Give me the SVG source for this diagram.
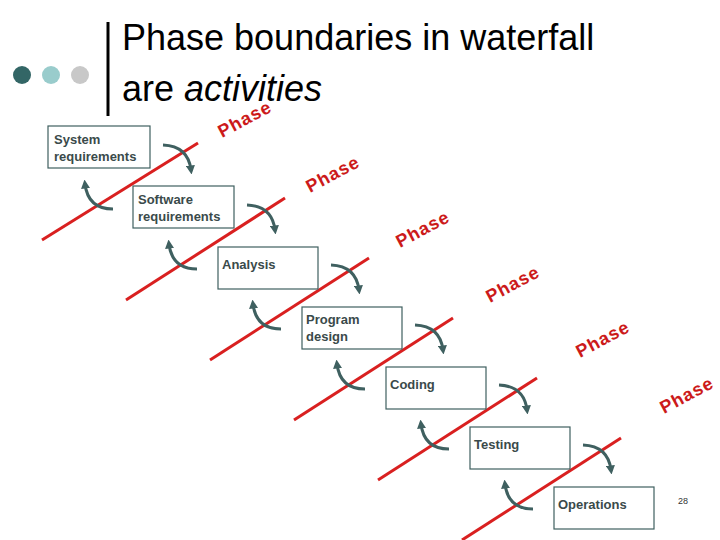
<svg xmlns="http://www.w3.org/2000/svg" width="720" height="540" viewBox="0 0 720 540">
<defs>
<style>
.box{fill:#fff;stroke:#3f5f5f;stroke-width:1.2}
.lbl{font-family:"Liberation Sans",Arial,sans-serif;font-size:13px;font-weight:bold;fill:#3a4a4a}
.red{stroke:#d92020;stroke-width:3}
.arr{fill:none;stroke:#3f6060;stroke-width:3}
.ph{font-family:"Liberation Sans",Arial,sans-serif;font-size:18px;font-weight:bold;fill:#cc1a1a;letter-spacing:1px}
</style>
<marker id="ah" viewBox="0 0 10 10" refX="5" refY="5" markerWidth="3" markerHeight="3" orient="auto"><path d="M0,0L10,5L0,10z" fill="#3f6060"/></marker>
<g id="arrows">
<path id="dn" class="arr" d="M163,145 Q188,146 191,170" marker-end="url(#ah)"/>
<path id="up" class="arr" d="M113,209 Q88,209 85,184" marker-end="url(#ah)"/>
</g>
</defs>
<rect width="720" height="540" fill="#fff"/>
<g id="deco">
<circle cx="22" cy="75" r="9" fill="#336666"/>
<circle cx="51" cy="75" r="9" fill="#99cccc"/>
<circle cx="80" cy="75" r="9" fill="#c8c8c8"/>
<line x1="108" y1="22" x2="108" y2="116" stroke="#000" stroke-width="3"/>
</g>
<text x="122" y="50" font-family="Liberation Sans,Arial,sans-serif" font-size="36" fill="#000">Phase boundaries in waterfall</text>
<text x="122" y="101" font-family="Liberation Sans,Arial,sans-serif" font-size="36" fill="#000">are <tspan font-style="italic">activities</tspan></text>
<g id="connectors">
<line class="red" x1="42" y1="240" x2="198" y2="143"/>
<line class="red" x1="126" y1="300" x2="285" y2="198"/>
<line class="red" x1="210" y1="360" x2="369" y2="258"/>
<line class="red" x1="294" y1="420" x2="453" y2="318"/>
<line class="red" x1="378" y1="480" x2="537" y2="378"/>
<line class="red" x1="462" y1="540" x2="621" y2="438"/>
<use href="#dn"/><use href="#dn" x="84" y="60"/><use href="#dn" x="168" y="120"/><use href="#dn" x="252" y="180"/><use href="#dn" x="336" y="240"/><use href="#dn" x="420" y="300"/>
<use href="#up"/><use href="#up" x="84" y="60"/><use href="#up" x="168" y="120"/><use href="#up" x="252" y="180"/><use href="#up" x="336" y="240"/><use href="#up" x="420" y="300"/>
</g>
<g id="n1"><rect class="box" x="48" y="126" width="102" height="42"/><text class="lbl" x="54" y="144">System</text><text class="lbl" x="54" y="161">requirements</text></g>
<g id="n2"><rect class="box" x="133" y="186" width="101" height="42"/><text class="lbl" x="138" y="204">Software</text><text class="lbl" x="138" y="221">requirements</text></g>
<g id="n3"><rect class="box" x="218" y="247" width="100" height="42"/><text class="lbl" x="222" y="269">Analysis</text></g>
<g id="n4"><rect class="box" x="302" y="307" width="100" height="42"/><text class="lbl" x="306" y="324">Program</text><text class="lbl" x="306" y="341">design</text></g>
<g id="n5"><rect class="box" x="386" y="367" width="100" height="42"/><text class="lbl" x="390" y="389">Coding</text></g>
<g id="n6"><rect class="box" x="470" y="427" width="100" height="42"/><text class="lbl" x="474" y="449">Testing</text></g>
<g id="n7"><rect class="box" x="554" y="487" width="100" height="42"/><text class="lbl" x="558" y="509">Operations</text></g>
<g id="phases">
<text class="ph" transform="translate(222,138) rotate(-28)">Phase</text>
<text class="ph" transform="translate(310,193) rotate(-28)">Phase</text>
<text class="ph" transform="translate(400,248) rotate(-28)">Phase</text>
<text class="ph" transform="translate(490,303) rotate(-28)">Phase</text>
<text class="ph" transform="translate(580,358) rotate(-28)">Phase</text>
<text class="ph" transform="translate(664,414) rotate(-28)">Phase</text>
</g>
<text x="678" y="504" font-family="Liberation Sans,Arial,sans-serif" font-size="9" fill="#333">28</text>
</svg>
